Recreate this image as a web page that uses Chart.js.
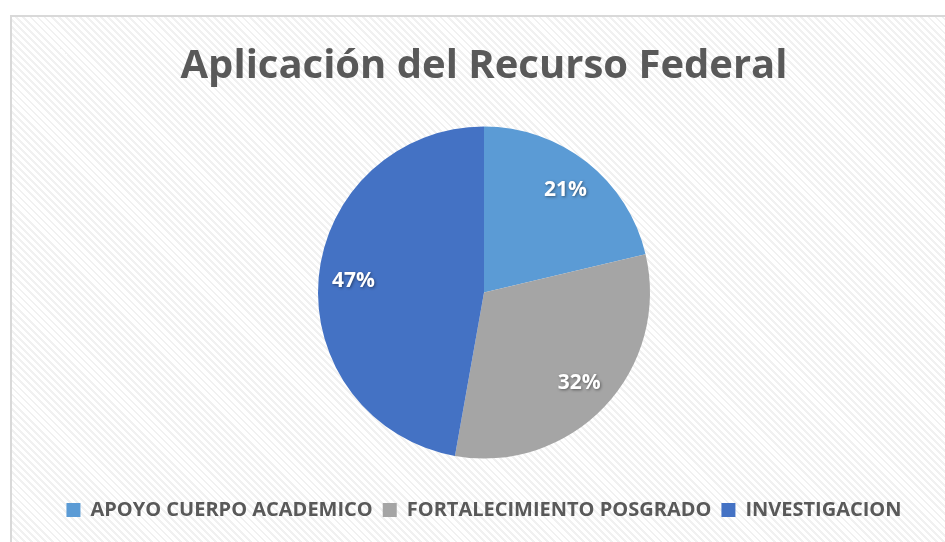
<!DOCTYPE html>
<html>
<head>
<meta charset="utf-8">
<script src="https://cdn.jsdelivr.net/npm/chart.js@4/dist/chart.umd.min.js"></script>
<style>
  html, body { margin: 0; padding: 0; background: #fff; width: 945px; height: 542px; overflow: hidden; }
  #frame {
    position: absolute; left: 10px; top: 15px; width: 960px; height: 560px;
    border: 2px solid #d9d9d9;
    background: repeating-linear-gradient(45deg, #ffffff 0px, #ffffff 3px, #f1f1f1 3px, #f1f1f1 5px);
  }
  #wrap { position: absolute; left: 0; top: 0; width: 945px; height: 542px; }
</style>
</head>
<body>
<div id="frame"></div>
<div id="wrap"><canvas id="chart"></canvas></div>
<script>
// data
const categories = ['APOYO CUERPO ACADEMICO', 'FORTALECIMIENTO POSGRADO', 'INVESTIGACION'];
const shares = [21.3, 31.5, 47.2];
const sliceColors = ['#5b9bd5', '#a5a5a5', '#4472c4'];
const chartTitle = 'Aplicación del Recurso Federal';

const fontFamily = '"Open Sans", sans-serif';

// percent labels drawn inside each slice
const sliceLabels = {
  id: 'sliceLabels',
  afterDatasetsDraw(chart) {
    const ctx = chart.ctx;
    const meta = chart.getDatasetMeta(0);
    const total = shares.reduce((a, b) => a + b, 0);
    ctx.save();
    ctx.font = 'bold 21px ' + fontFamily;
    ctx.fillStyle = '#ffffff';
    ctx.textAlign = 'center';
    ctx.textBaseline = 'middle';
    ctx.shadowColor = 'rgba(0,0,0,0.45)';
    ctx.shadowOffsetX = 1;
    ctx.shadowOffsetY = 1;
    ctx.shadowBlur = 3;
    meta.data.forEach((arc, i) => {
      const p = arc.getProps(['x', 'y', 'startAngle', 'endAngle', 'outerRadius'], true);
      const mid = (p.startAngle + p.endAngle) / 2;
      const r = p.outerRadius * 0.79;
      const txt = Math.round(shares[i] / total * 100) + '%';
      ctx.fillText(txt, p.x + Math.cos(mid) * r, p.y + Math.sin(mid) * r);
    });
    ctx.restore();
  }
};

new Chart(document.getElementById('chart'), {
  type: 'pie',
  data: {
    labels: categories,
    datasets: [{
      data: shares,
      backgroundColor: sliceColors,
      borderColor: '#ffffff',
      borderWidth: 0
    }]
  },
  options: {
    responsive: true,
    maintainAspectRatio: false,
    animation: false,
    radius: 166,
    layout: { padding: { left: 23, right: 0, top: 0, bottom: 12 } },
    plugins: {
      title: {
        display: true,
        text: chartTitle,
        color: '#595959',
        font: { family: fontFamily, size: 40, weight: 'bold', lineHeight: 1.2 },
        padding: { top: 43, bottom: 4 }
      },
      legend: {
        position: 'bottom',
        labels: {
          color: '#595959',
          font: { family: fontFamily, size: 20, weight: 'bold' },
          boxWidth: 14,
          boxHeight: 14,
          padding: 10
        }
      },
      tooltip: { enabled: false }
    }
  },
  plugins: [sliceLabels]
});
</script>
</body>
</html>
